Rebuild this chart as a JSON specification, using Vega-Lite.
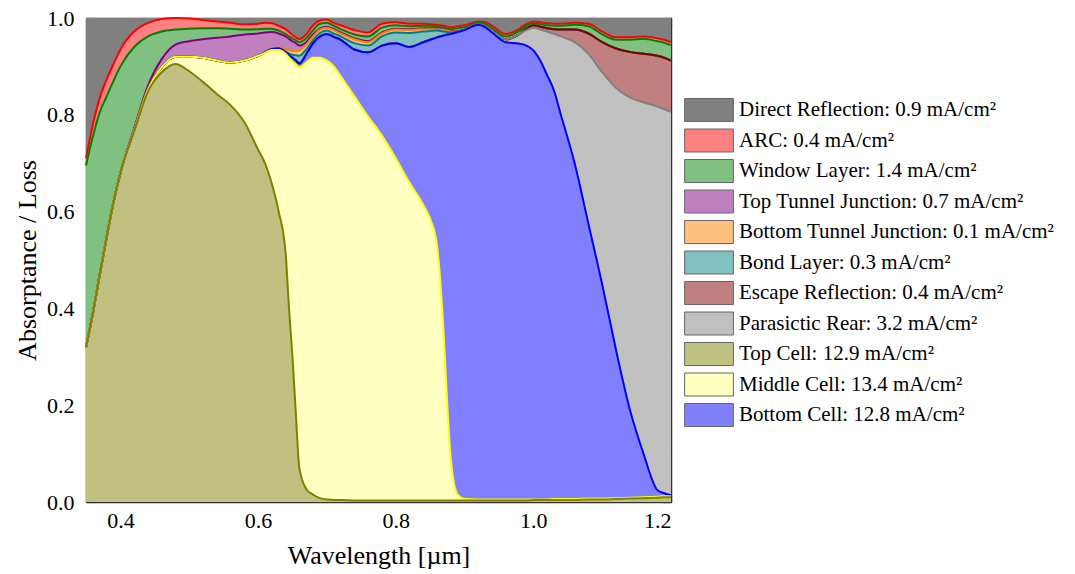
{
  "$schema": "https://vega.github.io/schema/vega-lite/v6.json",
  "width": 585,
  "height": 484,
  "autosize": {"type": "none"},
  "padding": {"left": 86, "top": 18, "right": 404, "bottom": 72},
  "background": "white",
  "data": {"values": [
    {"w":0.35,"DR":1,"ARC":0.71,"WL":0.695,"TTJ":0.32,"BTJ":0.32,"BL":0.32,"ER":0.32,"PR":0.32,"BC":0.32,"MC":0.32,"TC":0.32},
    {"w":0.36,"DR":1,"ARC":0.78,"WL":0.755,"TTJ":0.39,"BTJ":0.39,"BL":0.39,"ER":0.39,"PR":0.39,"BC":0.39,"MC":0.39,"TC":0.39},
    {"w":0.37,"DR":1,"ARC":0.835,"WL":0.805,"TTJ":0.47,"BTJ":0.47,"BL":0.47,"ER":0.47,"PR":0.47,"BC":0.47,"MC":0.47,"TC":0.47},
    {"w":0.38,"DR":1,"ARC":0.873,"WL":0.838,"TTJ":0.547,"BTJ":0.547,"BL":0.547,"ER":0.547,"PR":0.547,"BC":0.547,"MC":0.547,"TC":0.547},
    {"w":0.39,"DR":1,"ARC":0.905,"WL":0.87,"TTJ":0.62,"BTJ":0.62,"BL":0.62,"ER":0.62,"PR":0.62,"BC":0.62,"MC":0.62,"TC":0.62},
    {"w":0.40,"DR":1,"ARC":0.935,"WL":0.90,"TTJ":0.68,"BTJ":0.68,"BL":0.68,"ER":0.68,"PR":0.68,"BC":0.68,"MC":0.68,"TC":0.68},
    {"w":0.42,"DR":1,"ARC":0.972,"WL":0.94,"TTJ":0.772,"BTJ":0.768,"BL":0.768,"ER":0.768,"PR":0.768,"BC":0.768,"MC":0.768,"TC":0.767},
    {"w":0.44,"DR":1,"ARC":0.99,"WL":0.962,"TTJ":0.86,"BTJ":0.852,"BL":0.852,"ER":0.852,"PR":0.852,"BC":0.852,"MC":0.852,"TC":0.848},
    {"w":0.46,"DR":1,"ARC":0.998,"WL":0.972,"TTJ":0.915,"BTJ":0.898,"BL":0.898,"ER":0.898,"PR":0.898,"BC":0.898,"MC":0.898,"TC":0.888},
    {"w":0.48,"DR":1,"ARC":1.0,"WL":0.976,"TTJ":0.945,"BTJ":0.92,"BL":0.92,"ER":0.92,"PR":0.92,"BC":0.92,"MC":0.92,"TC":0.905},
    {"w":0.50,"DR":1,"ARC":0.999,"WL":0.978,"TTJ":0.952,"BTJ":0.92,"BL":0.92,"ER":0.92,"PR":0.92,"BC":0.92,"MC":0.92,"TC":0.89},
    {"w":0.52,"DR":1,"ARC":0.996,"WL":0.979,"TTJ":0.956,"BTJ":0.918,"BL":0.918,"ER":0.918,"PR":0.918,"BC":0.918,"MC":0.918,"TC":0.868},
    {"w":0.54,"DR":1,"ARC":0.993,"WL":0.979,"TTJ":0.959,"BTJ":0.912,"BL":0.912,"ER":0.912,"PR":0.912,"BC":0.912,"MC":0.912,"TC":0.843},
    {"w":0.56,"DR":1,"ARC":0.99,"WL":0.978,"TTJ":0.962,"BTJ":0.908,"BL":0.908,"ER":0.908,"PR":0.908,"BC":0.908,"MC":0.908,"TC":0.82},
    {"w":0.58,"DR":1,"ARC":0.987,"WL":0.976,"TTJ":0.966,"BTJ":0.912,"BL":0.912,"ER":0.912,"PR":0.912,"BC":0.912,"MC":0.912,"TC":0.785},
    {"w":0.60,"DR":1,"ARC":0.988,"WL":0.977,"TTJ":0.968,"BTJ":0.922,"BL":0.922,"ER":0.922,"PR":0.922,"BC":0.922,"MC":0.922,"TC":0.728},
    {"w":0.61,"DR":1,"ARC":0.99,"WL":0.978,"TTJ":0.97,"BTJ":0.929,"BL":0.929,"ER":0.929,"PR":0.929,"BC":0.929,"MC":0.928,"TC":0.70},
    {"w":0.62,"DR":1,"ARC":0.989,"WL":0.978,"TTJ":0.971,"BTJ":0.936,"BL":0.936,"ER":0.936,"PR":0.936,"BC":0.936,"MC":0.934,"TC":0.658},
    {"w":0.63,"DR":1,"ARC":0.984,"WL":0.974,"TTJ":0.968,"BTJ":0.939,"BL":0.937,"ER":0.937,"PR":0.937,"BC":0.937,"MC":0.934,"TC":0.60},
    {"w":0.64,"DR":1,"ARC":0.977,"WL":0.967,"TTJ":0.962,"BTJ":0.936,"BL":0.931,"ER":0.929,"PR":0.929,"BC":0.929,"MC":0.926,"TC":0.515},
    {"w":0.645,"DR":1,"ARC":0.971,"WL":0.962,"TTJ":0.957,"BTJ":0.934,"BL":0.927,"ER":0.923,"PR":0.923,"BC":0.923,"MC":0.918,"TC":0.40},
    {"w":0.65,"DR":1,"ARC":0.965,"WL":0.958,"TTJ":0.952,"BTJ":0.932,"BL":0.924,"ER":0.918,"PR":0.918,"BC":0.918,"MC":0.91,"TC":0.30},
    {"w":0.655,"DR":1,"ARC":0.96,"WL":0.954,"TTJ":0.948,"BTJ":0.932,"BL":0.923,"ER":0.912,"PR":0.912,"BC":0.912,"MC":0.904,"TC":0.18},
    {"w":0.66,"DR":1,"ARC":0.956,"WL":0.95,"TTJ":0.943,"BTJ":0.933,"BL":0.922,"ER":0.906,"PR":0.906,"BC":0.906,"MC":0.898,"TC":0.07},
    {"w":0.67,"DR":1,"ARC":0.966,"WL":0.958,"TTJ":0.95,"BTJ":0.945,"BL":0.935,"ER":0.925,"PR":0.925,"BC":0.925,"MC":0.908,"TC":0.027},
    {"w":0.68,"DR":1,"ARC":0.985,"WL":0.975,"TTJ":0.966,"BTJ":0.962,"BL":0.955,"ER":0.948,"PR":0.948,"BC":0.948,"MC":0.918,"TC":0.015},
    {"w":0.69,"DR":1,"ARC":0.995,"WL":0.988,"TTJ":0.978,"BTJ":0.976,"BL":0.969,"ER":0.962,"PR":0.962,"BC":0.962,"MC":0.918,"TC":0.008},
    {"w":0.70,"DR":1,"ARC":0.997,"WL":0.99,"TTJ":0.982,"BTJ":0.98,"BL":0.974,"ER":0.967,"PR":0.967,"BC":0.967,"MC":0.912,"TC":0.005},
    {"w":0.71,"DR":1,"ARC":0.99,"WL":0.984,"TTJ":0.977,"BTJ":0.975,"BL":0.968,"ER":0.961,"PR":0.961,"BC":0.961,"MC":0.90,"TC":0.004},
    {"w":0.72,"DR":1,"ARC":0.985,"WL":0.977,"TTJ":0.97,"BTJ":0.968,"BL":0.962,"ER":0.955,"PR":0.955,"BC":0.955,"MC":0.88,"TC":0.004},
    {"w":0.74,"DR":1,"ARC":0.975,"WL":0.966,"TTJ":0.958,"BTJ":0.956,"BL":0.948,"ER":0.935,"PR":0.935,"BC":0.935,"MC":0.838,"TC":0.003},
    {"w":0.76,"DR":1,"ARC":0.97,"WL":0.962,"TTJ":0.952,"BTJ":0.95,"BL":0.943,"ER":0.929,"PR":0.929,"BC":0.929,"MC":0.796,"TC":0.003},
    {"w":0.78,"DR":1,"ARC":0.988,"WL":0.98,"TTJ":0.97,"BTJ":0.968,"BL":0.962,"ER":0.943,"PR":0.943,"BC":0.943,"MC":0.757,"TC":0.003},
    {"w":0.80,"DR":1,"ARC":0.991,"WL":0.985,"TTJ":0.978,"BTJ":0.976,"BL":0.97,"ER":0.948,"PR":0.948,"BC":0.948,"MC":0.71,"TC":0.003},
    {"w":0.82,"DR":1,"ARC":0.988,"WL":0.983,"TTJ":0.977,"BTJ":0.975,"BL":0.969,"ER":0.94,"PR":0.94,"BC":0.94,"MC":0.66,"TC":0.003},
    {"w":0.84,"DR":1,"ARC":0.988,"WL":0.984,"TTJ":0.979,"BTJ":0.977,"BL":0.972,"ER":0.95,"PR":0.95,"BC":0.95,"MC":0.614,"TC":0.003},
    {"w":0.85,"DR":1,"ARC":0.987,"WL":0.984,"TTJ":0.979,"BTJ":0.977,"BL":0.973,"ER":0.955,"PR":0.955,"BC":0.955,"MC":0.585,"TC":0.003},
    {"w":0.86,"DR":1,"ARC":0.986,"WL":0.983,"TTJ":0.979,"BTJ":0.977,"BL":0.974,"ER":0.96,"PR":0.96,"BC":0.96,"MC":0.53,"TC":0.003},
    {"w":0.87,"DR":1,"ARC":0.984,"WL":0.98,"TTJ":0.976,"BTJ":0.975,"BL":0.972,"ER":0.964,"PR":0.964,"BC":0.964,"MC":0.34,"TC":0.003},
    {"w":0.875,"DR":1,"ARC":0.982,"WL":0.978,"TTJ":0.975,"BTJ":0.974,"BL":0.971,"ER":0.966,"PR":0.966,"BC":0.966,"MC":0.20,"TC":0.003},
    {"w":0.88,"DR":1,"ARC":0.981,"WL":0.977,"TTJ":0.973,"BTJ":0.972,"BL":0.97,"ER":0.967,"PR":0.967,"BC":0.967,"MC":0.09,"TC":0.003},
    {"w":0.89,"DR":1,"ARC":0.983,"WL":0.979,"TTJ":0.973,"BTJ":0.972,"BL":0.971,"ER":0.971,"PR":0.971,"BC":0.971,"MC":0.015,"TC":0.003},
    {"w":0.90,"DR":1,"ARC":0.985,"WL":0.981,"TTJ":0.976,"BTJ":0.976,"BL":0.976,"ER":0.976,"PR":0.976,"BC":0.975,"MC":0.006,"TC":0.003},
    {"w":0.92,"DR":1,"ARC":0.993,"WL":0.99,"TTJ":0.987,"BTJ":0.987,"BL":0.987,"ER":0.987,"PR":0.987,"BC":0.986,"MC":0.005,"TC":0.003},
    {"w":0.93,"DR":1,"ARC":0.992,"WL":0.988,"TTJ":0.983,"BTJ":0.983,"BL":0.983,"ER":0.983,"PR":0.983,"BC":0.981,"MC":0.005,"TC":0.003},
    {"w":0.94,"DR":1,"ARC":0.984,"WL":0.979,"TTJ":0.973,"BTJ":0.973,"BL":0.973,"ER":0.973,"PR":0.973,"BC":0.97,"MC":0.005,"TC":0.003},
    {"w":0.96,"DR":1,"ARC":0.967,"WL":0.962,"TTJ":0.956,"BTJ":0.956,"BL":0.956,"ER":0.956,"PR":0.956,"BC":0.95,"MC":0.005,"TC":0.003},
    {"w":0.98,"DR":1,"ARC":0.978,"WL":0.974,"TTJ":0.967,"BTJ":0.967,"BL":0.967,"ER":0.967,"PR":0.967,"BC":0.947,"MC":0.005,"TC":0.003},
    {"w":0.99,"DR":1,"ARC":0.988,"WL":0.984,"TTJ":0.978,"BTJ":0.978,"BL":0.978,"ER":0.978,"PR":0.975,"BC":0.943,"MC":0.005,"TC":0.003},
    {"w":1.00,"DR":1,"ARC":0.993,"WL":0.989,"TTJ":0.985,"BTJ":0.985,"BL":0.985,"ER":0.985,"PR":0.98,"BC":0.933,"MC":0.005,"TC":0.004},
    {"w":1.01,"DR":1,"ARC":0.991,"WL":0.987,"TTJ":0.982,"BTJ":0.982,"BL":0.982,"ER":0.982,"PR":0.976,"BC":0.912,"MC":0.005,"TC":0.004},
    {"w":1.02,"DR":1,"ARC":0.989,"WL":0.985,"TTJ":0.979,"BTJ":0.979,"BL":0.979,"ER":0.979,"PR":0.972,"BC":0.882,"MC":0.005,"TC":0.004},
    {"w":1.03,"DR":1,"ARC":0.988,"WL":0.984,"TTJ":0.977,"BTJ":0.977,"BL":0.977,"ER":0.977,"PR":0.967,"BC":0.85,"MC":0.006,"TC":0.004},
    {"w":1.04,"DR":1,"ARC":0.988,"WL":0.984,"TTJ":0.976,"BTJ":0.976,"BL":0.976,"ER":0.976,"PR":0.962,"BC":0.80,"MC":0.006,"TC":0.004},
    {"w":1.06,"DR":1,"ARC":0.99,"WL":0.986,"TTJ":0.976,"BTJ":0.976,"BL":0.976,"ER":0.976,"PR":0.95,"BC":0.70,"MC":0.006,"TC":0.004},
    {"w":1.08,"DR":1,"ARC":0.988,"WL":0.983,"TTJ":0.968,"BTJ":0.968,"BL":0.968,"ER":0.968,"PR":0.926,"BC":0.575,"MC":0.007,"TC":0.005},
    {"w":1.10,"DR":1,"ARC":0.972,"WL":0.966,"TTJ":0.95,"BTJ":0.95,"BL":0.95,"ER":0.95,"PR":0.888,"BC":0.45,"MC":0.007,"TC":0.005},
    {"w":1.12,"DR":1,"ARC":0.96,"WL":0.955,"TTJ":0.937,"BTJ":0.937,"BL":0.937,"ER":0.937,"PR":0.856,"BC":0.315,"MC":0.008,"TC":0.006},
    {"w":1.14,"DR":1,"ARC":0.96,"WL":0.955,"TTJ":0.93,"BTJ":0.93,"BL":0.93,"ER":0.93,"PR":0.836,"BC":0.192,"MC":0.009,"TC":0.007},
    {"w":1.16,"DR":1,"ARC":0.962,"WL":0.957,"TTJ":0.926,"BTJ":0.926,"BL":0.926,"ER":0.926,"PR":0.826,"BC":0.10,"MC":0.01,"TC":0.008},
    {"w":1.18,"DR":1,"ARC":0.958,"WL":0.952,"TTJ":0.922,"BTJ":0.922,"BL":0.922,"ER":0.922,"PR":0.817,"BC":0.025,"MC":0.011,"TC":0.009},
    {"w":1.19,"DR":1,"ARC":0.955,"WL":0.949,"TTJ":0.918,"BTJ":0.918,"BL":0.918,"ER":0.918,"PR":0.812,"BC":0.018,"MC":0.012,"TC":0.01},
    {"w":1.20,"DR":1,"ARC":0.95,"WL":0.944,"TTJ":0.912,"BTJ":0.912,"BL":0.912,"ER":0.912,"PR":0.806,"BC":0.014,"MC":0.012,"TC":0.01}
  ]},
  "transform": [{"fold": ["DR","ARC","WL","TTJ","BTJ","BL","ER","PR","BC","MC","TC"], "as": ["s","v"]}],
  "layer": [
    {
      "mark": {"type": "area", "interpolate": "monotone"},
      "encoding": {
        "x": {"field": "w", "type": "quantitative", "scale": {"domain": [0.35, 1.2], "nice": false, "zero": false},
              "axis": {"orient": "bottom", "values": [0.4, 0.6, 0.8, 1.0, 1.2], "format": ".1f", "ticks": false, "labelPadding": 8, "labelFontSize": 22, "domainWidth": 1.5, "title": "Wavelength [µm]", "titleFontSize": 26, "titleY": 40, "titleBaseline": "top"}},
        "y": {"field": "v", "type": "quantitative", "stack": null, "scale": {"domain": [0, 1], "nice": false, "zero": false},
              "axis": {"orient": "left", "values": [0, 0.2, 0.4, 0.6, 0.8, 1.0], "format": ".1f", "ticks": false, "labelPadding": 12, "labelFontSize": 22, "domainWidth": 1.5, "title": "Absorptance / Loss", "titleFontSize": 26, "titleX": -46, "titleY": 242}},
        "fill": {"field": "s", "type": "nominal",
                 "scale": {"domain": ["DR","ARC","WL","TTJ","BTJ","BL","ER","PR","TC","MC","BC"],
                           "range": ["#808080","#ff8080","#80c080","#c080c0","#ffc080","#80c0c0","#c08080","#c0c0c0","#c0c080","#ffffc0","#8080ff"]},
                 "legend": {"orient": "none", "legendX": 611, "legendY": 80, "title": null, "padding": 0,
                            "symbolType": "M-2.12,-1L2.12,-1L2.12,1L-2.12,1Z", "symbolSize": 529, "symbolStrokeColor": "#666666", "symbolStrokeWidth": 1, "symbolOpacity": 1,
                            "labelFont": "Liberation Serif", "labelFontSize": 21, "labelColor": "#000000", "labelLimit": 600, "labelOffset": 18, "rowPadding": 2.5,
                            "labelExpr": "datum.label == 'DR' ? 'Direct Reflection: 0.9 mA/cm²' : datum.label == 'ARC' ? 'ARC: 0.4 mA/cm²' : datum.label == 'WL' ? 'Window Layer: 1.4 mA/cm²' : datum.label == 'TTJ' ? 'Top Tunnel Junction: 0.7 mA/cm²' : datum.label == 'BTJ' ? 'Bottom Tunnel Junction: 0.1 mA/cm²' : datum.label == 'BL' ? 'Bond Layer: 0.3 mA/cm²' : datum.label == 'ER' ? 'Escape Reflection: 0.4 mA/cm²' : datum.label == 'PR' ? 'Parasictic Rear: 3.2 mA/cm²' : datum.label == 'TC' ? 'Top Cell: 12.9 mA/cm²' : datum.label == 'MC' ? 'Middle Cell: 13.4 mA/cm²' : 'Bottom Cell: 12.8 mA/cm²'"}}
      }
    },
    {
      "transform": [{"filter": "datum.s !== 'DR'"}],
      "mark": {"type": "line", "interpolate": "monotone", "strokeWidth": 2},
      "encoding": {
        "x": {"field": "w", "type": "quantitative", "scale": {"domain": [0.35, 1.2], "nice": false, "zero": false},
              "axis": {"orient": "bottom", "values": [0.4, 0.6, 0.8, 1.0, 1.2], "labels": false, "domain": false, "tickSize": -8, "title": null}},
        "y": {"field": "v", "type": "quantitative", "stack": null, "scale": {"domain": [0, 1], "nice": false, "zero": false},
              "axis": {"orient": "left", "values": [0, 0.2, 0.4, 0.6, 0.8, 1.0], "labels": false, "domain": false, "tickSize": -8, "title": null}},
        "stroke": {"field": "s", "type": "nominal", "legend": null,
                   "scale": {"domain": ["ARC","WL","TTJ","BTJ","BL","ER","PR","TC","MC","BC"],
                             "range": ["#ff0000","#008000","#800080","#ff8000","#008080","#800000","#808080","#808000","#ffff00","#0000ff"]}}
      }
    },
    {
      "transform": [{"filter": "datum.s === 'DR'"}],
      "mark": {"type": "point", "opacity": 0},
      "encoding": {
        "x": {"field": "w", "type": "quantitative", "scale": {"domain": [0.35, 1.2], "nice": false, "zero": false},
              "axis": {"orient": "bottom", "values": [0.5, 0.7, 0.9, 1.1], "labels": false, "domain": false, "tickSize": -4, "title": null}},
        "y": {"field": "v", "type": "quantitative", "stack": null, "scale": {"domain": [0, 1], "nice": false, "zero": false},
              "axis": {"orient": "left", "values": [0.1, 0.3, 0.5, 0.7, 0.9], "labels": false, "domain": false, "tickSize": -4, "title": null}}
      }
    },
    {
      "transform": [{"filter": "datum.s === 'DR'"}],
      "mark": {"type": "point", "opacity": 0},
      "encoding": {
        "x": {"field": "w", "type": "quantitative", "scale": {"domain": [0.35, 1.2], "nice": false, "zero": false},
              "axis": {"orient": "top", "values": [0.4, 0.6, 0.8, 1.0, 1.2], "labels": false, "domainWidth": 1.5, "tickSize": -8, "title": null}},
        "y": {"field": "v", "type": "quantitative", "stack": null, "scale": {"domain": [0, 1], "nice": false, "zero": false},
              "axis": {"orient": "right", "values": [0, 0.2, 0.4, 0.6, 0.8, 1.0], "labels": false, "domainWidth": 1.5, "tickSize": -8, "title": null}}
      }
    },
    {
      "transform": [{"filter": "datum.s === 'DR'"}],
      "mark": {"type": "point", "opacity": 0},
      "encoding": {
        "x": {"field": "w", "type": "quantitative", "scale": {"domain": [0.35, 1.2], "nice": false, "zero": false},
              "axis": {"orient": "top", "values": [0.5, 0.7, 0.9, 1.1], "labels": false, "domain": false, "tickSize": -4, "title": null}},
        "y": {"field": "v", "type": "quantitative", "stack": null, "scale": {"domain": [0, 1], "nice": false, "zero": false},
              "axis": {"orient": "right", "values": [0.1, 0.3, 0.5, 0.7, 0.9], "labels": false, "domain": false, "tickSize": -4, "title": null}}
      }
    }
  ],
  "resolve": {"axis": {"x": "independent", "y": "independent"}},
  "config": {
    "view": {"stroke": null},
    "axis": {"grid": false, "labelFont": "Liberation Serif", "titleFont": "Liberation Serif", "labelColor": "#000000", "titleColor": "#000000", "titleFontWeight": "normal", "domainColor": "#333333", "tickColor": "#333333", "tickWidth": 1.2},
    "legend": {"labelFont": "Liberation Serif"}
  }
}
